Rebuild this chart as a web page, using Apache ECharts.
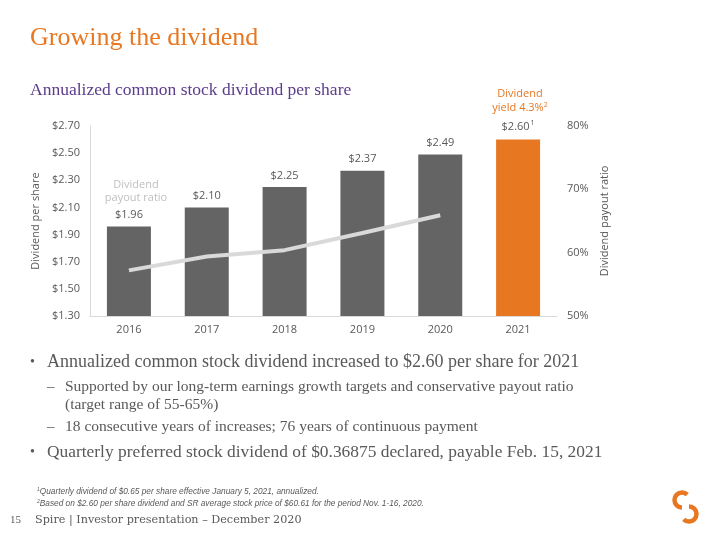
<!DOCTYPE html>
<html>
<head>
<meta charset="utf-8">
<script src="https://cdn.jsdelivr.net/npm/echarts@6/dist/echarts.min.js"></script>
<style>html,body{margin:0;padding:0;background:#fff;}#c{width:720px;height:540px;}</style>
</head>
<body>
<div id="c"></div>
<script>
const years = ['2016', '2017', '2018', '2019', '2020', '2021'];
const dividendPerShare = [1.96, 2.10, 2.25, 2.37, 2.49, 2.60];
const payoutRatio = [57.2, 59.4, 60.4, 63.1, 65.9, null];
const leftTicks = [1.3, 1.5, 1.7, 1.9, 2.1, 2.3, 2.5, 2.7];
const rightTicks = [50, 60, 70, 80];

const GRAY = '#646464';
const ORANGE = '#E87722';
const TXT = '#595959';
const SERIF = '"Liberation Serif", serif';
const SANS = '"Open Sans", sans-serif';

const chart = echarts.init(document.getElementById('c'));

function txt(x, y, text, style) {
  return { type: 'text', x: x, y: y, silent: true,
    style: Object.assign({ text: text, verticalAlign: 'middle' }, style) };
}

const graphics = [
  txt(30, 38, 'Growing the dividend', { fill: ORANGE, font: '26px ' + SERIF }),
  txt(30, 90, 'Annualized common stock dividend per share', { fill: '#5B3C8C', font: '17.5px ' + SERIF }),
  { type: 'text', x: 520, y: 101, silent: true, style: {
      text: 'Dividend\nyield 4.3%{s|2}', fill: ORANGE, font: '11px ' + SANS, align: 'center', verticalAlign: 'middle', lineHeight: 14,
      rich: { s: { fontSize: 7, verticalAlign: 'top', padding: [0, 0, 6, 0], fill: ORANGE, fontFamily: 'Open Sans' } } } },
  { type: 'text', x: 136, y: 191, silent: true, style: {
      text: 'Dividend\npayout ratio', fill: '#BFBFBF', font: '11px ' + SANS, align: 'center', verticalAlign: 'middle', lineHeight: 13 } },
  txt(30, 362, '•', { fill: TXT, font: '14px ' + SERIF }),
  txt(47, 362, 'Annualized common stock dividend increased to $2.60 per share for 2021', { fill: TXT, font: '18px ' + SERIF }),
  txt(47, 387, '–', { fill: TXT, font: '15px ' + SERIF }),
  txt(65, 387, 'Supported by our long-term earnings growth targets and conservative payout ratio', { fill: TXT, font: '15.5px ' + SERIF }),
  txt(65, 405, '(target range of 55-65%)', { fill: TXT, font: '15.5px ' + SERIF }),
  txt(47, 427, '–', { fill: TXT, font: '15px ' + SERIF }),
  txt(65, 427, '18 consecutive years of increases; 76 years of continuous payment', { fill: TXT, font: '15.5px ' + SERIF }),
  txt(30, 452, '•', { fill: TXT, font: '14px ' + SERIF }),
  txt(47, 452, 'Quarterly preferred stock dividend of $0.36875 declared, payable Feb. 15, 2021', { fill: TXT, font: '17.4px ' + SERIF }),
  { type: 'text', x: 37, y: 492, silent: true, style: {
      text: '{s|1}Quarterly dividend of $0.65 per share effective January 5, 2021, annualized.',
      fill: TXT, font: 'italic 8.3px "Liberation Sans", sans-serif', verticalAlign: 'middle',
      rich: { s: { fontSize: 5, verticalAlign: 'top', padding: [0, 0, 4, 0], fill: TXT, fontStyle: 'italic' } } } },
  { type: 'text', x: 37, y: 504, silent: true, style: {
      text: '{s|2}Based on $2.60 per share dividend and SR average stock price of $60.61 for the period Nov. 1-16, 2020.',
      fill: TXT, font: 'italic 8.3px "Liberation Sans", sans-serif', verticalAlign: 'middle',
      rich: { s: { fontSize: 5, verticalAlign: 'top', padding: [0, 0, 4, 0], fill: TXT, fontStyle: 'italic' } } } },
  txt(10, 520, '15', { fill: TXT, font: '11px ' + SERIF }),
  txt(35, 520, 'Spire | Investor presentation – December 2020', { fill: TXT, font: '11.2px "DejaVu Serif", serif' }),
  { type: 'arc', silent: true, shape: { cx: 682, cy: 500, r: 7.5, startAngle: -Math.PI / 4, endAngle: Math.PI / 2, clockwise: false },
    style: { stroke: ORANGE, lineWidth: 4.5, fill: null } },
  { type: 'arc', silent: true, shape: { cx: 689, cy: 514, r: 7.5, startAngle: -Math.PI / 2, endAngle: Math.PI * 3 / 4, clockwise: true },
    style: { stroke: ORANGE, lineWidth: 4.5, fill: null } }
];

chart.setOption({
  animation: false,
  backgroundColor: '#fff',
  grid: { left: 90, right: 163, top: 126, bottom: 224, containLabel: false },
  xAxis: {
    type: 'category', data: years,
    axisLine: { lineStyle: { color: '#D9D9D9', width: 1 } },
    axisTick: { show: false },
    axisLabel: { color: TXT, fontSize: 11, fontFamily: 'Open Sans', margin: 8 }
  },
  yAxis: [
    {
      type: 'value', min: 1.3, max: 2.7,
      name: 'Dividend per share', nameLocation: 'middle', nameRotate: 90, nameGap: 40,
      nameTextStyle: { color: TXT, fontSize: 11, fontFamily: 'Open Sans' },
      axisLine: { show: true, lineStyle: { color: '#D9D9D9' } },
      axisTick: { show: false },
      splitLine: { show: false },
      axisLabel: { customValues: leftTicks, color: TXT, fontSize: 11, fontFamily: 'Open Sans', margin: 10,
        formatter: v => '$' + v.toFixed(2) }
    },
    {
      type: 'value', min: 50, max: 80, interval: 10, position: 'right',
      name: 'Dividend payout ratio', nameLocation: 'middle', nameRotate: 90, nameGap: 38,
      nameTextStyle: { color: TXT, fontSize: 11, fontFamily: 'Open Sans' },
      axisLine: { show: false }, axisTick: { show: false }, splitLine: { show: false },
      axisLabel: { customValues: rightTicks, color: TXT, fontSize: 11, fontFamily: 'Open Sans', margin: 10,
        formatter: v => v + '%' }
    }
  ],
  series: [
    {
      type: 'bar', data: dividendPerShare, barWidth: 44, yAxisIndex: 0,
      itemStyle: { color: p => p.dataIndex === years.length - 1 ? ORANGE : GRAY },
      label: {
        show: true, position: 'top', distance: 6, color: TXT, fontSize: 11, fontFamily: 'Open Sans',
        formatter: p => '$' + p.value.toFixed(2) + (p.dataIndex === years.length - 1 ? '{s|1}' : ''),
        rich: { s: { fontSize: 7, verticalAlign: 'top', padding: [0, 0, 7, 1], color: TXT, fontFamily: 'Open Sans' } }
      },
      z: 2
    },
    {
      type: 'line', data: payoutRatio, yAxisIndex: 1, showSymbol: false, symbol: 'none',
      lineStyle: { color: '#D9D9D9', width: 4 }, z: 3
    }
  ],
  graphic: graphics
});
</script>
</body>
</html>
